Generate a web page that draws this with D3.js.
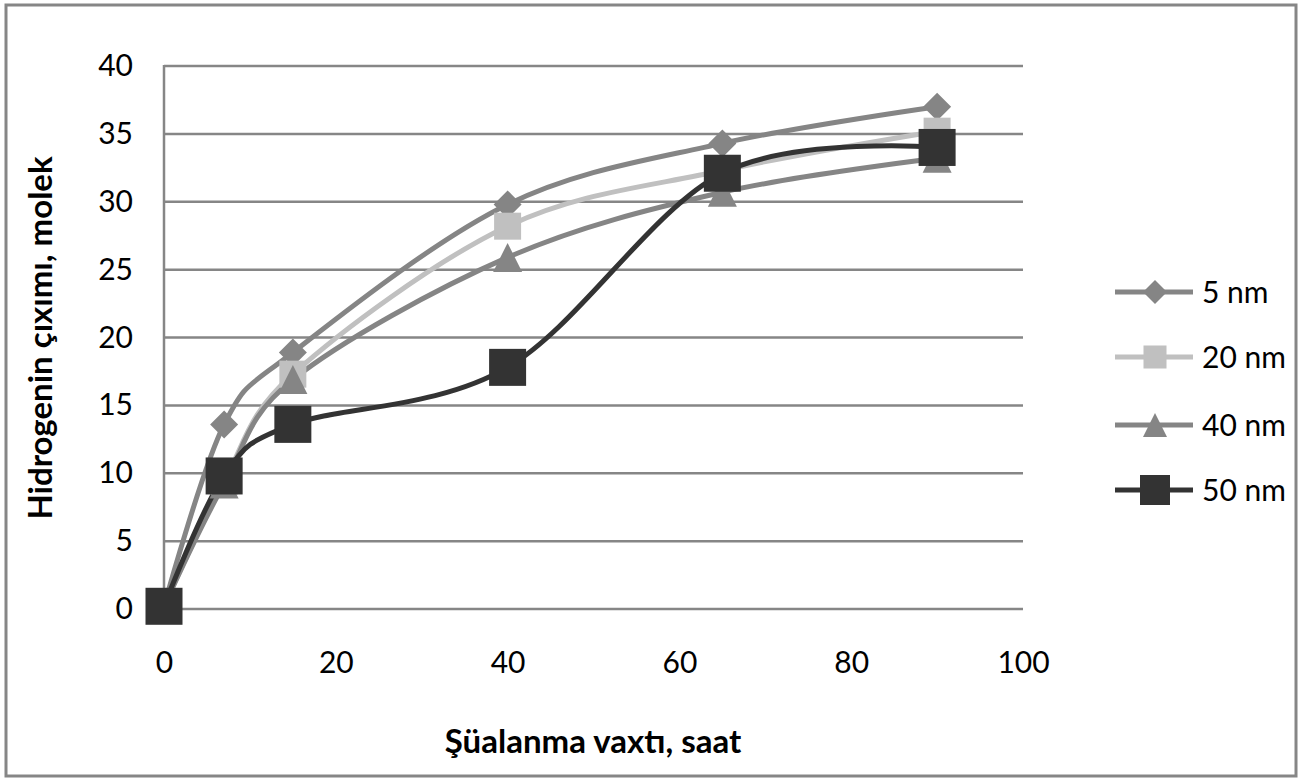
<!DOCTYPE html>
<html><head><meta charset="utf-8">
<script src="https://cdn.jsdelivr.net/npm/d3@7"></script>
<style>body{margin:0;background:#fff}svg{display:block}text{font-family:Lato,"Open Sans",sans-serif}</style>
</head><body>
<svg id="c" width="1302" height="779"></svg>
<script>
const xValues = [0, 7, 15, 40, 65, 90];
const s5 = [0.2, 13.6, 18.9, 29.8, 34.3, 37.0];
const s20 = [0.2, 9.4, 17.3, 28.2, 32.3, 35.2];
const s40 = [0.2, 9.2, 16.9, 25.9, 30.7, 33.2];
const s50 = [0.2, 9.8, 13.6, 17.8, 32.1, 34.0];
const seriesNames = ["5 nm", "20 nm", "40 nm", "50 nm"];
const xTicks = [0, 20, 40, 60, 80, 100];
const yTicks = [0, 5, 10, 15, 20, 25, 30, 35, 40];
const xTitle = "Şüalanma vaxtı, saat";
const yTitle = "Hidrogenin çıxımı, molek";

const svg = d3.select("#c");
svg.append("rect").attr("x",6).attr("y",5).attr("width",1290).attr("height",771)
  .attr("fill","#fff").attr("stroke","#868686").attr("stroke-width",3);

const x = d3.scaleLinear().domain([0,100]).range([164,1023]);
const y = d3.scaleLinear().domain([0,40]).range([609,66]);

// gridlines
svg.append("g").selectAll("line").data(yTicks).join("line")
  .attr("x1",x(0)).attr("x2",x(100)).attr("y1",d=>y(d)).attr("y2",d=>y(d))
  .attr("stroke","#868686").attr("stroke-width",2.5);
svg.append("line").attr("x1",x(0)).attr("x2",x(0)).attr("y1",y(0)+1).attr("y2",y(40)-1)
  .attr("stroke","#868686").attr("stroke-width",2.5);

// axes labels via d3 axis
const yAxis = svg.append("g").attr("transform",`translate(${x(0)},0)`)
  .call(d3.axisLeft(y).tickValues(yTicks).tickSize(0).tickPadding(31));
yAxis.select(".domain").remove();
yAxis.selectAll("text").attr("font-size",30).attr("fill","#000").attr("font-family","Lato");
const xAxis = svg.append("g").attr("transform",`translate(0,${y(0)})`)
  .call(d3.axisBottom(x).tickValues(xTicks).tickSize(0).tickPadding(43));
xAxis.select(".domain").remove();
xAxis.selectAll("text").attr("font-size",30).attr("fill","#000").attr("font-family","Lato");

svg.append("text").attr("x",593).attr("y",753).attr("text-anchor","middle")
  .attr("font-size",33).attr("font-weight","bold").text(xTitle);
svg.append("text").attr("transform","translate(52,338) rotate(-90)").attr("text-anchor","middle")
  .attr("font-size",33).attr("font-weight","bold").text(yTitle);

const styles = [
  {vals:s5, color:"#858585", w:5, marker:"diamond", size:28},
  {vals:s20, color:"#c0c0c0", w:5, marker:"square", size:27},
  {vals:s40, color:"#858585", w:5, marker:"triangle", size:29},
  {vals:s50, color:"#333333", w:5, marker:"square", size:37}
];
const line = d3.line().x(d=>x(d[0])).y(d=>y(d[1])).curve(d3.curveCatmullRom.alpha(0));

function drawMarker(g, type, size, color, cx, cy){
  if(type==="square"){
    g.append("rect").attr("x",cx-size/2).attr("y",cy-size/2).attr("width",size).attr("height",size).attr("fill",color);
  } else if(type==="diamond"){
    const h=size/2;
    g.append("path").attr("d",`M${cx},${cy-h}L${cx+h},${cy}L${cx},${cy+h}L${cx-h},${cy}Z`).attr("fill",color);
  } else {
    const h=size/2;
    g.append("path").attr("d",`M${cx},${cy-h}L${cx+h},${cy+h}L${cx-h},${cy+h}Z`).attr("fill",color);
  }
}

styles.forEach(s=>{
  const pts = xValues.map((v,i)=>[v,s.vals[i]]);
  svg.append("path").datum(pts).attr("d",line).attr("fill","none")
    .attr("stroke",s.color).attr("stroke-width",s.w).attr("stroke-linejoin","round");
});
styles.forEach(s=>{
  const g = svg.append("g");
  xValues.forEach((v,i)=>drawMarker(g,s.marker,s.size,s.color,x(v),y(s.vals[i])));
});

// legend
const legY = [292, 357, 425, 490];
seriesNames.forEach((n,i)=>{
  const s = styles[i], g = svg.append("g");
  g.append("line").attr("x1",1115).attr("x2",1193).attr("y1",legY[i]).attr("y2",legY[i])
    .attr("stroke",s.color).attr("stroke-width",s.w);
  drawMarker(g,s.marker,i===3?30:(i===1?23:24),s.color,1155,legY[i]);
  g.append("text").attr("x",1202).attr("y",legY[i]).attr("dy","0.36em")
    .attr("font-size",30).text(n);
});
</script>
</body></html>
